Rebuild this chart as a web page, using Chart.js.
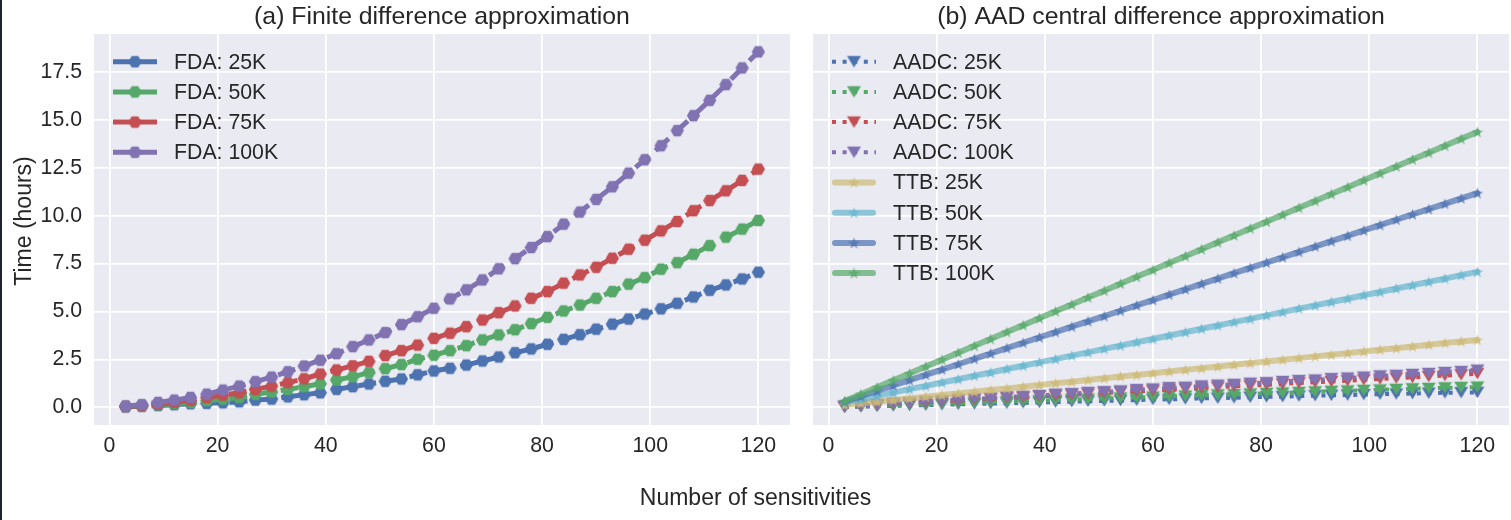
<!DOCTYPE html>
<html>
<head>
<meta charset="utf-8">
<script src="https://cdn.jsdelivr.net/npm/chart.js@4.4.0/dist/chart.umd.min.js"></script>
<style>
  html, body { margin: 0; padding: 0; background: #fff; overflow: hidden; }
  body { width: 1511px; height: 520px; position: relative; }
  #edge { position: absolute; left: 0; top: 0; width: 2px; height: 520px; background: #1c2433; }
  #left { position: absolute; left: 0; top: 0; }
  #right { position: absolute; left: 800px; top: 0; }
  #xlabel {
    position: absolute; left: 0; width: 1511px; top: 484px; line-height: 27px;
    text-align: center; font: 23px "Liberation Sans", Arial, sans-serif; color: #262626;
  }
</style>
</head>
<body>
<div id="edge"></div>
<canvas id="left" width="800" height="520"></canvas>
<canvas id="right" width="720" height="520"></canvas>
<div id="xlabel">Number of sensitivities</div>
<script>
// number of sensitivities (x values)
const sens = [3, 6, 9, 12, 15, 18, 21, 24, 27, 30, 33, 36, 39, 42, 45, 48, 51, 54, 57, 60,
  63, 66, 69, 72, 75, 78, 81, 84, 87, 90, 93, 96, 99, 102, 105, 108, 111, 114, 117, 120];
const xTicks = [0, 20, 40, 60, 80, 100, 120];
const yTicks = [0, 2.5, 5, 7.5, 10, 12.5, 15, 17.5];

// (a) finite difference, hours
const fda25 = [0.03, 0.06, 0.10, 0.14, 0.19, 0.21, 0.24, 0.29, 0.38, 0.43, 0.55, 0.66, 0.76, 0.94, 1.08, 1.22, 1.36, 1.48, 1.70, 1.90,
  2.04, 2.21, 2.42, 2.63, 2.85, 3.05, 3.29, 3.55, 3.79, 4.08, 4.34, 4.61, 4.87, 5.14, 5.43, 5.76, 6.11, 6.39, 6.70, 7.05];
const fda50 = [0.04, 0.08, 0.13, 0.19, 0.26, 0.35, 0.43, 0.52, 0.68, 0.80, 0.94, 1.08, 1.23, 1.43, 1.60, 1.81, 2.02, 2.23, 2.51, 2.72,
  2.96, 3.22, 3.52, 3.78, 4.05, 4.37, 4.70, 5.03, 5.34, 5.69, 6.04, 6.43, 6.77, 7.21, 7.55, 7.99, 8.44, 8.88, 9.30, 9.75];
const fda75 = [0.05, 0.10, 0.18, 0.27, 0.37, 0.52, 0.64, 0.76, 0.94, 1.11, 1.29, 1.49, 1.74, 1.95, 2.17, 2.40, 2.70, 2.96, 3.25, 3.60,
  3.87, 4.21, 4.56, 4.94, 5.29, 5.69, 6.04, 6.48, 6.91, 7.31, 7.78, 8.25, 8.72, 9.21, 9.70, 10.26, 10.79, 11.30, 11.84, 12.43];
const fda100 = [0.07, 0.14, 0.26, 0.38, 0.52, 0.69, 0.90, 1.11, 1.34, 1.58, 1.86, 2.16, 2.46, 2.80, 3.17, 3.52, 3.90, 4.32, 4.73, 5.17,
  5.66, 6.13, 6.65, 7.23, 7.76, 8.34, 8.91, 9.56, 10.19, 10.85, 11.51, 12.22, 12.92, 13.65, 14.44, 15.22, 16.02, 16.84, 17.71, 18.55];

// (b) AAD central difference, hours
const aadc25 = [0.01, 0.04, 0.06, 0.08, 0.10, 0.12, 0.14, 0.16, 0.18, 0.20, 0.22, 0.24, 0.26, 0.28, 0.30, 0.32, 0.34, 0.36, 0.38, 0.41,
  0.42, 0.44, 0.47, 0.48, 0.50, 0.53, 0.55, 0.56, 0.59, 0.61, 0.63, 0.64, 0.67, 0.69, 0.70, 0.72, 0.74, 0.76, 0.77, 0.78];
const aadc50 = [0.02, 0.05, 0.08, 0.11, 0.14, 0.16, 0.19, 0.22, 0.24, 0.27, 0.30, 0.33, 0.35, 0.38, 0.41, 0.43, 0.46, 0.49, 0.51, 0.54,
  0.57, 0.59, 0.62, 0.65, 0.67, 0.70, 0.73, 0.75, 0.78, 0.81, 0.84, 0.86, 0.89, 0.91, 0.94, 0.97, 0.99, 1.02, 1.04, 1.06];
const aadc75 = [0.03, 0.08, 0.13, 0.18, 0.22, 0.27, 0.31, 0.35, 0.40, 0.45, 0.49, 0.52, 0.58, 0.61, 0.66, 0.70, 0.75, 0.79, 0.83, 0.87,
  0.93, 0.96, 1.01, 1.05, 1.10, 1.13, 1.18, 1.22, 1.27, 1.31, 1.35, 1.39, 1.44, 1.48, 1.53, 1.56, 1.61, 1.66, 1.70, 1.76];
const aadc100 = [0.04, 0.09, 0.14, 0.21, 0.23, 0.30, 0.33, 0.40, 0.44, 0.48, 0.55, 0.58, 0.62, 0.69, 0.72, 0.78, 0.82, 0.86, 0.93, 0.96,
  1.03, 1.05, 1.12, 1.16, 1.20, 1.26, 1.29, 1.35, 1.40, 1.43, 1.50, 1.53, 1.58, 1.64, 1.67, 1.72, 1.77, 1.82, 1.87, 1.94];
const ttb25 = [0.12, 0.21, 0.29, 0.38, 0.47, 0.56, 0.64, 0.73, 0.82, 0.91, 0.99, 1.08, 1.17, 1.26, 1.34, 1.43, 1.52, 1.61, 1.69, 1.78,
  1.87, 1.96, 2.04, 2.13, 2.22, 2.31, 2.39, 2.48, 2.57, 2.66, 2.74, 2.83, 2.92, 3.01, 3.09, 3.18, 3.27, 3.36, 3.44, 3.52];
const ttb50 = [0.25, 0.42, 0.60, 0.77, 0.95, 1.12, 1.30, 1.47, 1.65, 1.82, 2.00, 2.17, 2.35, 2.52, 2.70, 2.87, 3.05, 3.22, 3.40, 3.57,
  3.75, 3.92, 4.10, 4.27, 4.45, 4.62, 4.80, 4.97, 5.15, 5.32, 5.50, 5.67, 5.85, 6.02, 6.20, 6.37, 6.55, 6.72, 6.90, 7.07];
const ttb75 = [0.30, 0.58, 0.86, 1.14, 1.42, 1.70, 1.97, 2.25, 2.53, 2.81, 3.09, 3.37, 3.65, 3.93, 4.21, 4.49, 4.76, 5.04, 5.32, 5.60,
  5.88, 6.16, 6.44, 6.72, 7.00, 7.28, 7.55, 7.83, 8.11, 8.39, 8.67, 8.95, 9.23, 9.51, 9.79, 10.07, 10.34, 10.62, 10.90, 11.18];
const ttb100 = [0.33, 0.69, 1.05, 1.41, 1.77, 2.13, 2.49, 2.85, 3.21, 3.57, 3.93, 4.29, 4.65, 5.01, 5.37, 5.73, 6.09, 6.45, 6.81, 7.17,
  7.53, 7.89, 8.25, 8.61, 8.97, 9.33, 9.69, 10.05, 10.41, 10.77, 11.13, 11.49, 11.85, 12.21, 12.57, 12.93, 13.29, 13.65, 14.01, 14.37];

const FONT = '"Liberation Sans", Arial, sans-serif';
const INK = "#262626";
const BLUE = "76,114,176", GREEN = "85,168,104", RED = "196,78,82",
  PURPLE = "129,114,178", KHAKI = "204,185,116", CYAN = "100,181,205";

// --- marker images (hexagon, down triangle, star)
function markerCanvas(size, draw) {
  const c = document.createElement("canvas");
  c.width = c.height = size;
  const g = c.getContext("2d");
  draw(g, size / 2);
  return c;
}
function hexagon(rgb) {
  return markerCanvas(15, (g, m) => {
    g.fillStyle = `rgb(${rgb})`;
    g.beginPath();
    for (let k = 0; k < 6; k++) {
      const a = (k * Math.PI) / 3;
      g.lineTo(m + 6.6 * Math.cos(a), m + 6.6 * Math.sin(a));
    }
    g.closePath();
    g.fill();
  });
}
function triDown(rgb) {
  return markerCanvas(17, (g, m) => {
    g.fillStyle = `rgb(${rgb})`;
    g.beginPath();
    g.moveTo(m - 7, m - 5.8);
    g.lineTo(m + 7, m - 5.8);
    g.lineTo(m, m + 5.8);
    g.closePath();
    g.fill();
  });
}
function star(rgb) {
  return markerCanvas(15, (g, m) => {
    g.fillStyle = `rgba(${rgb},0.75)`;
    g.beginPath();
    for (let k = 0; k < 10; k++) {
      const r = k % 2 ? 2.5 : 6.2;
      const a = -Math.PI / 2 + (k * Math.PI) / 5;
      g.lineTo(m + r * Math.cos(a), m + 0.6 + r * Math.sin(a));
    }
    g.closePath();
    g.fill();
  });
}

function fdaSet(label, vals, rgb) {
  return {
    label, data: sens.map((s, i) => ({ x: s, y: vals[i] })),
    borderColor: `rgb(${rgb})`, borderWidth: 5, borderDash: [18, 8],
    pointStyle: hexagon(rgb), pointRadius: 5, pointHoverRadius: 5,
  };
}
function aadcSet(label, vals, rgb) {
  return {
    label, data: sens.map((s, i) => ({ x: s, y: vals[i] })),
    borderColor: `rgb(${rgb})`, borderWidth: 4, borderDash: [4, 6.6],
    pointStyle: triDown(rgb), pointRadius: 5, pointHoverRadius: 5,
  };
}
function ttbSet(label, vals, rgb) {
  return {
    label, data: sens.map((s, i) => ({ x: s, y: vals[i] })),
    borderColor: `rgba(${rgb},0.7)`, borderWidth: 6,
    borderCapStyle: "round", borderJoinStyle: "round",
    pointStyle: star(rgb), pointRadius: 5, pointHoverRadius: 5,
  };
}

// later datasets on top, like matplotlib
function stack(sets) {
  sets.forEach((d, i) => { d.order = -i; d.tension = 0; d.fill = false; });
  return sets;
}

// background, panel title, y label and inline legend
const panelDecor = {
  id: "panelDecor",
  beforeDraw(chart) {
    const { ctx, chartArea: a } = chart;
    ctx.save();
    ctx.fillStyle = "#EAEAF2";
    ctx.fillRect(a.left, a.top, a.right - a.left, a.bottom - a.top);
    ctx.restore();
  },
  afterDraw(chart, args, opts) {
    const { ctx, chartArea: a } = chart;
    ctx.save();
    ctx.fillStyle = INK;
    ctx.font = `24.8px ${FONT}`;
    ctx.textAlign = "center";
    ctx.textBaseline = "middle";
    ctx.fillText(opts.title, (a.left + a.right) / 2, 17);

    if (opts.yLabel) {
      ctx.save();
      ctx.translate(25, 221);
      ctx.rotate(-Math.PI / 2);
      ctx.font = `23px ${FONT}`;
      ctx.fillText(opts.yLabel, 0, 0);
      ctx.restore();
    }

    ctx.font = `21.3px ${FONT}`;
    ctx.textAlign = "left";
    chart.data.datasets.forEach((d, i) => {
      const y = a.top + 27.7 + i * 30.2;
      const x0 = a.left + 19, x1 = x0 + 44;
      ctx.save();
      ctx.strokeStyle = d.borderColor;
      ctx.lineWidth = d.borderWidth;
      ctx.setLineDash(d.borderDash || []);
      ctx.lineCap = d.borderCapStyle || "butt";
      ctx.beginPath();
      ctx.moveTo(d.borderCapStyle === "round" ? x0 + 3 : x0, y);
      ctx.lineTo(d.borderCapStyle === "round" ? x1 - 3 : x1, y);
      ctx.stroke();
      const m = d.pointStyle;
      ctx.drawImage(m, (x0 + x1) / 2 - m.width / 2, y - m.height / 2);
      ctx.restore();
      ctx.fillText(d.label, a.left + 80, y + 1);
    });
    ctx.restore();
  },
};

function scales(showY, yWidth) {
  const tickFont = { family: FONT, size: 21.3 };
  return {
    x: {
      type: "linear", min: -2.85, max: 125.85,
      afterBuildTicks: s => { s.ticks = xTicks.map(v => ({ value: v })); },
      afterFit: s => { s.height = 95; },
      grid: { color: "#ffffff", lineWidth: 1.8, drawTicks: false },
      border: { display: false },
      ticks: { padding: 8, color: INK, font: tickFont },
    },
    y: {
      type: "linear", min: -0.92, max: 19.48,
      afterBuildTicks: s => { s.ticks = yTicks.map(v => ({ value: v })); },
      afterFit: s => { s.width = yWidth; },
      grid: { color: "#ffffff", lineWidth: 1.8, drawTicks: false },
      border: { display: false },
      ticks: { display: showY, padding: 12, color: INK, font: tickFont, callback: v => v.toFixed(1) },
    },
  };
}

function baseOptions(title, yLabel, yWidth, padRight) {
  return {
    responsive: false, animation: false, devicePixelRatio: 1,
    layout: { padding: { top: 34, right: padRight, bottom: 0, left: 0 } },
    plugins: { legend: { display: false }, tooltip: { enabled: false }, panelDecor: { title, yLabel } },
    scales: scales(!!yLabel, yWidth),
  };
}

new Chart(document.getElementById("left"), {
  type: "line",
  data: {
    datasets: stack([
      fdaSet("FDA: 25K", fda25, BLUE),
      fdaSet("FDA: 50K", fda50, GREEN),
      fdaSet("FDA: 75K", fda75, RED),
      fdaSet("FDA: 100K", fda100, PURPLE),
    ]),
  },
  options: baseOptions("(a) Finite difference approximation", "Time (hours)", 94, 5),
  plugins: [panelDecor],
});

new Chart(document.getElementById("right"), {
  type: "line",
  data: {
    datasets: stack([
      aadcSet("AADC: 25K", aadc25, BLUE),
      aadcSet("AADC: 50K", aadc50, GREEN),
      aadcSet("AADC: 75K", aadc75, RED),
      aadcSet("AADC: 100K", aadc100, PURPLE),
      ttbSet("TTB: 25K", ttb25, KHAKI),
      ttbSet("TTB: 50K", ttb50, CYAN),
      ttbSet("TTB: 75K", ttb75, BLUE),
      ttbSet("TTB: 100K", ttb100, GREEN),
    ]),
  },
  options: baseOptions("(b) AAD central difference approximation", null, 13, 6),
  plugins: [panelDecor],
});
</script>
</body>
</html>
